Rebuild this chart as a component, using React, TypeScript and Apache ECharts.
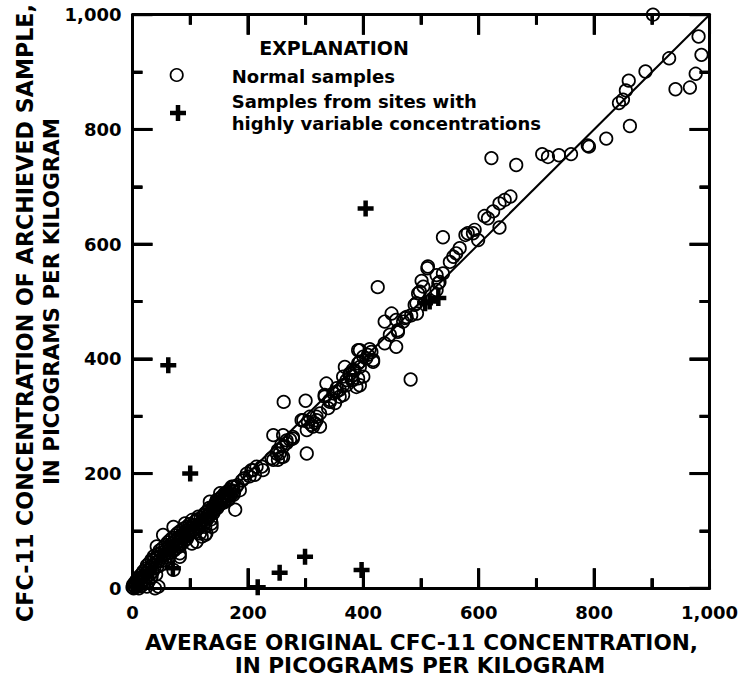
import React, { useEffect, useRef, useState } from "react";
import * as echarts from "echarts";

// ---- data ----
const axisMin = 0;
const axisMax = 1000;
const majorInterval = 200;
const majorTickValues = [0, 200, 400, 600, 800, 1000];
const minorTickValues = [100, 300, 500, 700, 900];

const normalSamples: number[][] = [
  [0, 2], [1, 6], [2, 0], [3, 4], [4, 10], [5, 2], [6, 7], [7, 14], [8, 3], [9, 11],
  [10, 18], [10, 6], [11, 0], [12, 14], [13, 22], [14, 9], [15, 4], [16, 18], [17, 26], [18, 12],
  [19, 30], [20, 22], [21, 8], [22, 16], [23, 34], [24, 27], [25, 3], [25, 40], [26, 20], [27, 31],
  [28, 12], [29, 44], [30, 35], [31, 25], [32, 18], [33, 20], [33, 50], [34, 40], [35, 29], [36, 49],
  [37, 56], [38, 35], [39, 0], [40, 45], [41, 24], [42, 53], [42, 73], [43, 38], [44, 60], [45, 3],
  [46, 48], [47, 66], [48, 40], [49, 56], [50, 62], [51, 48], [52, 70], [53, 93], [54, 58], [55, 64],
  [56, 49], [57, 75], [58, 54], [59, 68], [60, 60], [61, 80], [62, 66], [63, 72], [64, 56], [65, 84],
  [66, 70], [67, 62], [68, 78], [69, 88], [70, 74], [71, 107], [71, 32], [72, 66], [73, 82], [74, 92],
  [75, 76], [76, 70], [77, 86], [78, 96], [79, 80], [80, 74], [81, 90], [82, 55], [82, 61], [82, 73],
  [83, 100], [84, 84], [85, 78], [86, 94], [87, 88], [88, 104], [89, 82], [90, 96], [91, 113], [92, 90],
  [93, 100], [94, 86], [95, 108], [96, 98], [97, 92], [98, 104], [99, 112], [100, 96], [101, 106], [103, 78],
  [103, 119], [104, 100], [105, 110], [106, 102], [108, 116], [109, 98], [110, 108], [111, 81], [112, 120], [113, 104],
  [114, 125], [115, 112], [116, 106], [117, 96], [118, 122], [119, 114], [120, 90], [121, 118], [122, 126], [123, 110],
  [124, 128], [125, 120], [126, 93], [126, 107], [126, 131], [127, 116], [128, 96], [129, 126], [130, 135], [131, 122],
  [132, 128], [133, 140], [134, 151], [135, 130], [136, 120], [137, 107], [137, 113], [138, 136], [139, 142], [140, 131],
  [141, 144], [142, 136], [143, 139], [144, 148], [145, 150], [146, 154], [147, 140], [148, 146], [150, 145], [151, 156],
  [152, 166], [153, 150], [154, 148], [155, 160], [156, 154], [158, 158], [159, 150], [160, 166], [161, 162], [162, 156],
  [163, 160], [164, 168], [165, 155], [166, 154], [167, 164], [168, 172], [169, 171], [170, 162], [172, 177], [174, 170],
  [175, 163], [175, 177], [176, 168], [178, 137], [180, 177], [182, 180], [186, 171], [190, 188], [194, 192],
  [198, 200], [203, 195], [206, 206], [209, 206], [212, 198], [215, 212], [224, 212], [226, 206], [241, 227], [244, 224],
  [244, 267], [250, 235], [252, 224], [252, 241], [255, 235], [258, 229], [258, 250], [261, 229], [261, 247], [261, 267],
  [262, 325], [267, 253], [267, 258], [273, 259], [278, 261], [278, 264], [293, 293], [296, 293], [300, 327], [302, 235],
  [302, 276], [304, 290], [307, 299], [310, 285], [313, 282], [316, 288], [319, 293], [319, 299], [325, 282], [325, 305],
  [333, 334], [333, 337], [336, 357], [339, 314], [342, 325], [342, 328], [348, 340], [351, 323], [354, 343], [354, 349],
  [359, 334], [359, 346], [365, 337], [365, 354], [365, 369], [368, 386], [371, 354], [371, 363], [376, 372], [377, 375],
  [380, 363], [382, 363], [382, 381], [385, 380], [388, 351], [391, 366], [391, 392], [391, 415], [394, 354], [394, 386],
  [394, 395], [394, 415],
  [400, 369], [400, 404], [405, 401], [408, 407], [411, 417], [414, 412], [417, 395], [417, 398], [425, 525], [437, 427],
  [437, 465], [446, 442], [449, 479], [457, 421], [457, 468], [460, 447], [460, 450], [469, 465], [472, 471], [475, 473],
  [482, 364], [483, 476], [489, 494], [492, 497], [493, 479], [495, 514], [498, 517], [501, 536], [504, 526], [511, 558],
  [512, 561], [527, 520], [527, 546], [530, 532], [532, 534], [538, 549], [538, 612], [550, 569], [556, 578], [561, 584],
  [567, 593], [577, 616], [581, 619], [590, 619], [593, 625], [599, 607], [610, 649], [616, 645], [622, 750], [625, 657],
  [636, 629], [636, 671], [645, 677], [655, 683], [665, 738], [710, 757], [720, 752], [739, 755], [760, 757], [789, 772],
  [791, 770], [821, 784], [843, 846], [850, 852], [855, 868], [860, 885], [862, 806], [889, 901], [902, 1000], [930, 924],
  [941, 870], [966, 873], [976, 897], [981, 962], [986, 930],
];

const variableSamples: number[][] = [
  [62, 389], [100, 200], [70, 35], [217, 2], [255, 27], [299, 55], [397, 32], [404, 662],
  [507, 497], [515, 500], [530, 506],
];

const oneToOneLine: number[][] = [[0, 0], [1000, 1000]];

const xTitleLines = ["AVERAGE ORIGINAL CFC-11 CONCENTRATION,", "IN PICOGRAMS PER KILOGRAM"];
const yTitleLines = ["CFC-11 CONCENTRATION OF ARCHIEVED SAMPLE,", "IN PICOGRAMS PER KILOGRAM"];
const legendTitle = "EXPLANATION";
const legendNames = ["Normal samples", "Samples from sites with", "highly variable concentrations"];

// ---- styling ----
const FONT = "DejaVu Sans";
const MAJOR_LEN = 20;
const MINOR_LEN = 10;
const TICK_W = 3;
const PLUS_SIZE = 16;
const PLUS_ARM = 4.5;

const fmt = (v: number) => String(v).replace(/\B(?=(\d{3})+(?!\d))/g, ",");

function axis(position: string, show: boolean, margin: number) {
  return {
    type: "value",
    gridIndex: 0,
    position,
    min: axisMin,
    max: axisMax,
    interval: majorInterval,
    axisLine: { show: true, onZero: false, lineStyle: { color: "#000", width: 3 } },
    axisTick: { show: true, inside: true, length: MAJOR_LEN, lineStyle: { color: "#000", width: TICK_W } },
    minorTick: { show: true, splitNumber: 2, length: MINOR_LEN, lineStyle: { color: "#000", width: TICK_W } },
    splitLine: { show: false },
    minorSplitLine: { show: false },
    axisLabel: {
      show,
      margin,
      formatter: fmt,
      color: "#000",
      fontFamily: FONT,
      fontWeight: "bold",
      fontSize: 18,
    },
  };
}

function plusPoints(cx: number, cy: number, s: number, a: number) {
  const h = s / 2;
  const t = a / 2;
  return [
    [cx - t, cy - h], [cx + t, cy - h], [cx + t, cy - t], [cx + h, cy - t],
    [cx + h, cy + t], [cx + t, cy + t], [cx + t, cy + h], [cx - t, cy + h],
    [cx - t, cy + t], [cx - h, cy + t], [cx - h, cy - t], [cx - t, cy - t],
  ];
}

// inward ticks on all four sides of the frame, placed through the axes' own scales
function tickSeries(values: number[], len: number) {
  return {
    type: "custom",
    xAxisIndex: 0,
    yAxisIndex: 0,
    silent: true,
    z: 5,
    data: values.map((v) => [v, axisMin]),
    renderItem: (_params: any, api: any) => {
      const v = api.value(0);
      const b = api.coord([v, axisMin]);
      const t = api.coord([v, axisMax]);
      const l = api.coord([axisMin, v]);
      const r = api.coord([axisMax, v]);
      const style = { stroke: "#000", lineWidth: TICK_W };
      return {
        type: "group",
        children: [
          { type: "line", shape: { x1: b[0], y1: b[1], x2: b[0], y2: b[1] - len }, style },
          { type: "line", shape: { x1: t[0], y1: t[1], x2: t[0], y2: t[1] + len }, style },
          { type: "line", shape: { x1: l[0], y1: l[1], x2: l[0] + len, y2: l[1] }, style },
          { type: "line", shape: { x1: r[0], y1: r[1], x2: r[0] - len, y2: r[1] }, style },
        ],
      };
    },
  };
}

function txt(text: string, x: number, y: number, size: number, align: string, rotation = 0) {
  return {
    type: "text",
    x,
    y,
    rotation,
    style: {
      text,
      fill: "#000",
      fontFamily: FONT,
      fontWeight: "bold",
      fontSize: size,
      align,
      textAlign: align,
      verticalAlign: "middle",
      textVerticalAlign: "middle",
    },
  };
}

export default function App() {
  const ref = useRef<HTMLDivElement>(null);
  const [err, setErr] = useState("");

  useEffect(() => {
    if (!ref.current) return;
    const chart = echarts.init(ref.current, null, { renderer: "svg" });
    try {
      chart.setOption({
        animation: false,
        backgroundColor: "#fff",
        grid: [{ left: 132.5, right: 31, top: 14.7, bottom: 93.7 }],
        xAxis: [axis("bottom", true, 15), axis("top", false, 8)],
        yAxis: [axis("left", true, 11), axis("right", false, 8)],
        series: [
          {
            type: "line",
            xAxisIndex: 0,
            yAxisIndex: 0,
            data: oneToOneLine,
            showSymbol: false,
            lineStyle: { color: "#000", width: 2, opacity: 1 },
          },
          {
            name: legendNames[0],
            type: "scatter",
            xAxisIndex: 0,
            yAxisIndex: 0,
            data: normalSamples,
            symbol: "circle",
            symbolSize: 12.5,
            itemStyle: { color: "rgba(0,0,0,0)", borderColor: "#000", borderWidth: 1.7, opacity: 1 },
          },
          {
            name: legendNames[1] + " " + legendNames[2],
            type: "custom",
            xAxisIndex: 0,
            yAxisIndex: 0,
            z: 4,
            data: variableSamples,
            renderItem: (_params: any, api: any) => {
              const c = api.coord([api.value(0), api.value(1)]);
              return {
                type: "polygon",
                shape: { points: plusPoints(c[0], c[1], PLUS_SIZE, PLUS_ARM) },
                style: { fill: "#000" },
              };
            },
          },
          tickSeries(majorTickValues, MAJOR_LEN),
          tickSeries(minorTickValues, MINOR_LEN),
        ],
        graphic: [
          txt(legendTitle, 334, 47.5, 19, "center"),
          {
            type: "circle",
            shape: { cx: 176.7, cy: 75, r: 6.2 },
            style: { fill: "none", stroke: "#000", lineWidth: 1.7 },
          },
          txt(legendNames[0], 231.7, 76, 18, "left"),
          {
            type: "polygon",
            shape: { points: plusPoints(178, 113, PLUS_SIZE, PLUS_ARM) },
            style: { fill: "#000" },
          },
          txt(legendNames[1], 231.7, 101.5, 18, "left"),
          txt(legendNames[2], 231.7, 123.5, 18, "left"),
          txt(xTitleLines[0], 421.5, 642.5, 21.6, "center"),
          txt(xTitleLines[1], 420, 665.7, 21.6, "center"),
          txt(yTitleLines[0], 25, 313, 22.2, "center", Math.PI / 2),
          txt(yTitleLines[1], 51.7, 301.5, 21.4, "center", Math.PI / 2),
        ],
      });
    } catch (e: any) {
      setErr(String(e && e.stack ? e.stack : e).slice(0, 400));
    }
    return () => chart.dispose();
  }, []);

  return (
    <>
      <div
        ref={ref}
        style={{ position: "absolute", left: 0, top: 0, width: 741, height: 682 }}
      />
      {err ? (
        <div style={{ position: "absolute", left: 300, top: 400, width: 400, fontSize: 11, color: "red", background: "#ffe" }}>
          {err}
        </div>
      ) : null}
    </>
  );
}
